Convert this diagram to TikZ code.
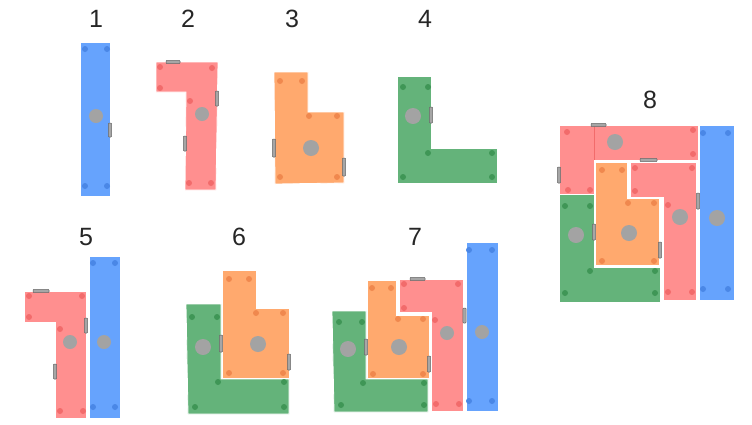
\documentclass[tikz,border=0pt]{standalone}
\usepackage{fontspec}
\setmainfont{Liberation Sans}
\usepackage{xcolor}
\usetikzlibrary{positioning}

\definecolor{pcblue}{HTML}{66A3FD}
\definecolor{pcbluedot}{HTML}{4A87E6}
\definecolor{pcred}{HTML}{FF8F8F}
\definecolor{pcreddot}{HTML}{F26B6B}
\definecolor{pcorange}{HTML}{FFA96E}
\definecolor{pcorangedot}{HTML}{F0884E}
\definecolor{pcgreen}{HTML}{64B37A}
\definecolor{pcgreendot}{HTML}{3F9656}
\definecolor{hubgray}{HTML}{A3A3A3}

% vertical and horizontal hinge tabs
\newcommand{\vtab}[3]{\draw[tab] (#1-1.6,#2) rectangle (#1+1.6,#3);}
\newcommand{\htab}[3]{\draw[tab] (#2,#1-1.6) rectangle (#3,#1+1.6);}

\begin{document}
\begin{tikzpicture}[
  x=1pt, y=-1pt,
  num/.style={font=\fontsize{25}{30}\selectfont, text=black!85, inner sep=0pt},
  bluepc/.style={fill=pcblue, draw=white, line width=0.8pt},
  redpc/.style={fill=pcred, draw=white, line width=0.8pt},
  orangepc/.style={fill=pcorange, draw=white, line width=0.8pt},
  greenpc/.style={fill=pcgreen, draw=white, line width=0.8pt},
  hub/.style={fill=hubgray},
  tab/.style={fill=black!35, draw=black!60, line width=0.5pt, rounded corners=0.8pt}
]
\fill[white] (0,0) rectangle (752,424);
\useasboundingbox (0,0) rectangle (752,424);

% ---------- labels
\node[num] (n1) at (96,19) {1};
\node[num] (n2) at (188,19) {2};
\node[num] (n3) at (292,19) {3};
\node[num] (n4) at (425,19) {4};
\node[num] (n5) at (86,237) {5};
\node[num] (n6) at (239,237) {6};
\node[num] (n7) at (415,237) {7};
\node[num] (n8) at (650,100) {8};

% ---------- 1
\fill[bluepc] (80,42) rectangle (110,196);
\foreach \p in {(85,49),(107,49),(85,186),(107,186)} \fill[pcbluedot] \p circle (3);
\fill[hub] (96,116) circle (7);
\vtab{110}{123}{137}

% ---------- 2
\fill[redpc] (156,62) -- (218,62) -- (216,190) -- (185,190) -- (186,92) -- (156,92) -- cycle;
\foreach \p in {(160,67),(212,68),(160,88),(190,101),(189,183),(211,183)} \fill[pcreddot] \p circle (3);
\fill[hub] (202,114) circle (7);
\htab{62}{166}{180}
\vtab{217}{91}{106}
\vtab{185}{136}{151}

% ---------- 3
\fill[orangepc] (274,72) -- (308,72) -- (308,112) -- (344,112) -- (344,183) -- (275,184) -- cycle;
\foreach \p in {(280,81),(302,81),(309,116),(337,116),(280,177),(337,177)} \fill[pcorangedot] \p circle (3);
\fill[hub] (311,148) circle (8);
\vtab{274}{139}{157}
\vtab{344}{158}{176}

% ---------- 4
\fill[greenpc] (397,76) -- (431,76) -- (431,148) -- (497,148) -- (497,183) -- (397,183) -- cycle;
\foreach \p in {(403,87),(428,87),(428,153),(492,153),(403,177),(492,177)} \fill[pcgreendot] \p circle (3);
\fill[hub] (413,116) circle (8);
\vtab{431}{107}{123}

% ---------- 5
\fill[redpc] (24,291) -- (86,291) -- (86,418) -- (55,418) -- (55,322) -- (24,322) -- cycle;
\foreach \p in {(29,296),(82,296),(29,317),(60,329),(60,411),(83,411)} \fill[pcreddot] \p circle (3);
\fill[hub] (70,342) circle (7);
\htab{291}{33}{49}
\vtab{86}{318}{333}
\vtab{55}{364}{379}
\fill[bluepc] (89,256) rectangle (120,418);
\foreach \p in {(93,263),(115,263),(93,407),(115,407)} \fill[pcbluedot] \p circle (3);
\fill[hub] (104,342) circle (7);

% ---------- 6
\fill[greenpc] (186,304) -- (221,304) -- (221,379) -- (289,379) -- (289,414) -- (188,414) -- cycle;
\foreach \p in {(192,317),(217,317),(218,382),(284,382),(195,407),(284,407)} \fill[pcgreendot] \p circle (3);
\fill[hub] (203,347) circle (8);
\fill[orangepc] (222,270) -- (256,270) -- (256,308) -- (289,308) -- (289,378) -- (222,378) -- cycle;
\foreach \p in {(229,279),(249,279),(256,313),(283,313),(229,373),(283,373)} \fill[pcorangedot] \p circle (3);
\fill[hub] (258,344) circle (8);
\vtab{221}{335}{352}
\vtab{289}{354}{370}

% ---------- 7
\fill[greenpc] (332,311) -- (366,311) -- (366,379) -- (428,379) -- (428,412) -- (334,412) -- cycle;
\foreach \p in {(339,322),(362,322),(363,383),(424,383),(341,405),(424,405)} \fill[pcgreendot] \p circle (3);
\fill[hub] (348,349) circle (8);
\fill[orangepc] (367,280) -- (396,280) -- (396,315) -- (429,315) -- (429,378) -- (367,378) -- cycle;
\foreach \p in {(372,288),(391,288),(398,319),(423,319),(373,374),(423,374)} \fill[pcorangedot] \p circle (3);
\fill[hub] (399,347) circle (8);
\vtab{366}{339}{355}
\vtab{429}{356}{372}
\fill[redpc] (399,279) -- (463,279) -- (463,411) -- (431,411) -- (431,312) -- (399,312) -- cycle;
\foreach \p in {(404,284),(458,284),(404,308),(435,320),(436,404),(459,404)} \fill[pcreddot] \p circle (3);
\fill[hub] (447,333) circle (7);
\htab{279}{410}{425}
\fill[bluepc] (466,242) rectangle (498,411);
\foreach \p in {(469,250),(492,250),(469,401),(492,401)} \fill[pcbluedot] \p circle (3);
\fill[hub] (482,332) circle (7);
\vtab{464.5}{308}{323}

% ---------- 8
\fill[redpc] (559,125) -- (698,125) -- (698,160) -- (594,160) -- (594,194) -- (559,194) -- cycle;
\draw[pcreddot, line width=0.6pt] (594,125) -- (594,160);
\foreach \p in {(567,132),(693,130),(693,154),(568,190),(590,190)} \fill[pcreddot] \p circle (3);
\fill[hub] (615,142) circle (8);
\fill[greenpc] (559,194) -- (594,194) -- (594,267) -- (660,267) -- (660,302) -- (559,302) -- cycle;
\foreach \p in {(565,206),(590,206),(590,271),(655,271),(565,293),(655,293)} \fill[pcgreendot] \p circle (3);
\fill[hub] (576,235) circle (8);
\fill[orangepc, line width=1.6pt] (595,162) -- (628,162) -- (628,198) -- (660,198) -- (660,266) -- (595,266) -- cycle;
\foreach \p in {(602,170),(622,170),(628,203),(654,203),(602,261),(654,261)} \fill[pcorangedot] \p circle (3);
\fill[hub] (629,233) circle (8);
\fill[redpc, line width=1.6pt] (630,162) -- (697,162) -- (697,301) -- (663,301) -- (663,198) -- (630,198) -- cycle;
\foreach \p in {(635,168),(692,168),(635,191),(668,205),(668,292),(692,292)} \fill[pcreddot] \p circle (3);
\fill[hub] (680,217) circle (8);
\fill[bluepc] (699,125) rectangle (734,300);
\foreach \p in {(703,133),(728,133),(703,289),(728,289)} \fill[pcbluedot] \p circle (3);
\fill[hub] (717,218) circle (8);
\htab{125}{591}{606}
\vtab{559}{167}{183}
\htab{160}{640}{657}
\vtab{594}{224}{240}
\vtab{660}{242}{258}
\vtab{698}{193}{209}
\end{tikzpicture}
\end{document}
